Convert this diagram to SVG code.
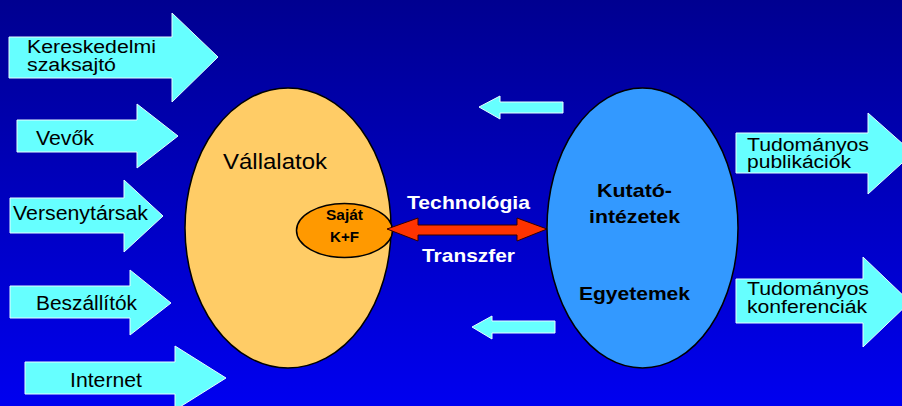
<svg xmlns="http://www.w3.org/2000/svg" width="902" height="406" viewBox="0 0 902 406">
<defs>
<linearGradient id="bg" x1="0" y1="0" x2="0" y2="1">
<stop offset="0" stop-color="#000090"/>
<stop offset="1" stop-color="#0000F0"/>
</linearGradient>
</defs>
<style>
.cy{fill:#66FFFF;stroke:#E6FFFF;stroke-width:1}
.t{font-family:"Liberation Sans",Arial,sans-serif;font-size:20px;fill:#000}
.t2{font-size:18px}
.b{font-family:"Liberation Sans",Arial,sans-serif;font-size:19px;font-weight:bold;fill:#000}
.w{fill:#fff}
.s{font-size:14px}
</style>
<rect x="0" y="0" width="902" height="406" fill="url(#bg)"/>
<g id="connectors">
<path class="cy" d="M9,37 H172 V13 L218,57 L172,102 V78 H9 Z"/>
<path class="cy" d="M17,120 H137 V104 L178,136 L137,168 V152 H17 Z"/>
<path class="cy" d="M10,198 H124 V180 L163,216 L124,252 V233 H10 Z"/>
<path class="cy" d="M10,286 H130 V270 L171,303 L130,335 V318 H10 Z"/>
<path class="cy" d="M25,362 H175 V346 L226,378 L175,410 V394 H25 Z"/>
<path class="cy" d="M736,133 H868 V113 L913,153 L868,194 V173 H736 Z"/>
<path class="cy" d="M736,279 H863 V257 L910,302 L863,347 V323 H736 Z"/>
<path class="cy" d="M563,102 H500 V96 L479,107 L500,119 V113 H563 Z"/>
<path class="cy" d="M555,321 H492 V316 L472,327 L492,339 V333 H555 Z"/>
</g>
<g id="labels-left">
<text class="t t2" x="27" y="53" textLength="129" lengthAdjust="spacingAndGlyphs">Kereskedelmi</text>
<text class="t t2" x="27" y="71" textLength="89" lengthAdjust="spacingAndGlyphs">szaksajtó</text>
<text class="t" x="36" y="145" textLength="58" lengthAdjust="spacingAndGlyphs">Vevők</text>
<text class="t" x="13" y="220" textLength="135" lengthAdjust="spacingAndGlyphs">Versenytársak</text>
<text class="t" x="36" y="310" textLength="101" lengthAdjust="spacingAndGlyphs">Beszállítók</text>
<text class="t" x="70" y="387" textLength="72" lengthAdjust="spacingAndGlyphs">Internet</text>
</g>
<g id="vallalatok">
<ellipse cx="288" cy="228" rx="103" ry="140" fill="#FFCC66" stroke="#000" stroke-width="1.5"/>
<text class="t" x="223" y="169" style="font-size:22px" textLength="104" lengthAdjust="spacingAndGlyphs">Vállalatok</text>
</g>
<g id="sajat">
<ellipse cx="344.5" cy="230.5" rx="48" ry="27" fill="#FF9900" stroke="#000" stroke-width="1.5"/>
<text class="b s" x="326" y="220" textLength="37" lengthAdjust="spacingAndGlyphs">Saját</text>
<text class="b s" x="330" y="242" textLength="29" lengthAdjust="spacingAndGlyphs">K+F</text>
</g>
<g id="transfer">
<path d="M387,229 L418,218 V225 H517 V218 L547,229 L517,241 V235 H418 V241 Z" fill="#FF3300" stroke="#330000" stroke-width="1"/>
<text class="b w" x="407" y="209" textLength="123" lengthAdjust="spacingAndGlyphs">Technológia</text>
<text class="b w" x="422" y="262" textLength="93" lengthAdjust="spacingAndGlyphs">Transzfer</text>
</g>
<g id="kutato">
<ellipse cx="642.5" cy="228" rx="95.5" ry="140" fill="#3399FF" stroke="#000" stroke-width="1.5"/>
<text class="b" x="597" y="197" textLength="75" lengthAdjust="spacingAndGlyphs">Kutató-</text>
<text class="b" x="589" y="223" textLength="91" lengthAdjust="spacingAndGlyphs">intézetek</text>
<text class="b" x="579" y="300" textLength="111" lengthAdjust="spacingAndGlyphs">Egyetemek</text>
</g>
<g id="labels-right">
<text class="t t2" x="747" y="151" textLength="122" lengthAdjust="spacingAndGlyphs">Tudományos</text>
<text class="t t2" x="747" y="168" textLength="104" lengthAdjust="spacingAndGlyphs">publikációk</text>
<text class="t t2" x="747" y="295" textLength="122" lengthAdjust="spacingAndGlyphs">Tudományos</text>
<text class="t t2" x="747" y="313" textLength="120" lengthAdjust="spacingAndGlyphs">konferenciák</text>
</g>
</svg>
